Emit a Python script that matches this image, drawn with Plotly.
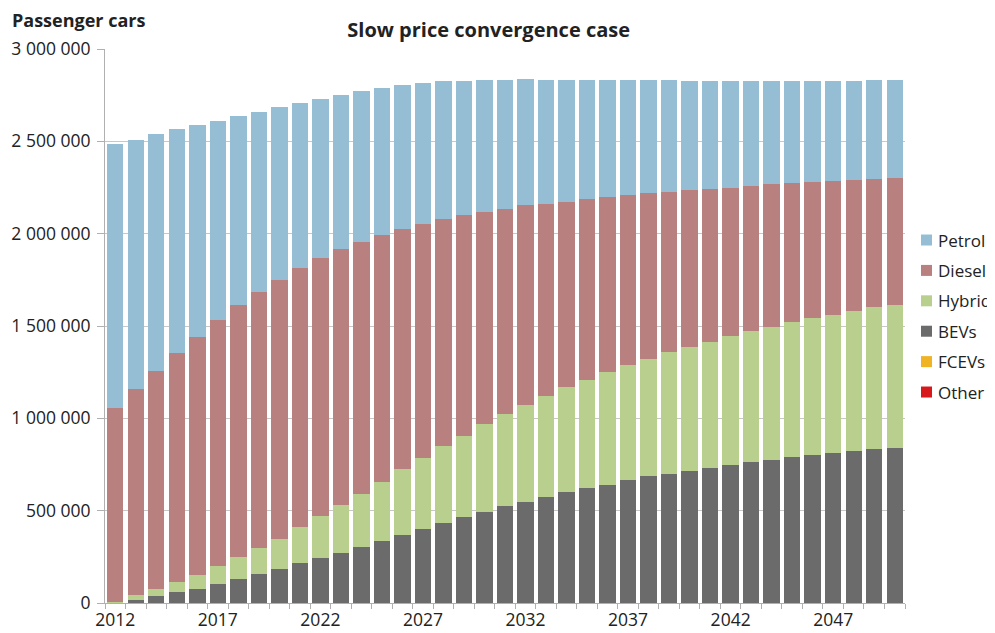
import plotly.graph_objects as go

years = list(range(2012, 2051))

bevs = [3000, 14000, 38000, 60000, 78000, 105000, 128000, 157000, 186000, 217000,
        242000, 272000, 305000, 337000, 370000, 402000, 433000, 467000, 494000, 525000,
        549000, 572000, 599000, 621000, 641000, 664000, 686000, 700000, 716000, 733000,
        749000, 764000, 776000, 791000, 803000, 812000, 825000, 832000, 839000]

hybrid = [5000, 29000, 36000, 52000, 75000, 95000, 121000, 139000, 162000, 196000,
          229000, 257000, 287000, 318000, 354000, 381000, 416000, 439000, 477000, 497000,
          523000, 549000, 571000, 587000, 608000, 626000, 635000, 659000, 672000, 682000,
          699000, 707000, 720000, 732000, 739000, 749000, 756000, 769000, 775000]

diesel = [1046000, 1116000, 1182000, 1240000, 1289000, 1331000, 1363000, 1390000, 1403000, 1399000,
          1397000, 1386000, 1365000, 1339000, 1301000, 1271000, 1230000, 1193000, 1144000, 1111000,
          1081000, 1039000, 1003000, 978000, 949000, 917000, 897000, 868000, 847000, 827000,
          801000, 787000, 771000, 750000, 738000, 724000, 709000, 693000, 689000]

petrol = [1430000, 1348000, 1282000, 1213000, 1145000, 1081000, 1025000, 973000, 933000, 894000,
          859000, 836000, 815000, 793000, 778000, 764000, 746000, 729000, 717000, 699000,
          684000, 673000, 660000, 647000, 633000, 624000, 612000, 603000, 594000, 586000,
          579000, 570000, 561000, 555000, 548000, 543000, 539000, 536000, 527000]

fcevs = [0] * len(years)
other = [0] * len(years)

# bottom of the stack first
series = [
    ("Other", other, "#d7191c"),
    ("FCEVs", fcevs, "#f0b323"),
    ("BEVs", bevs, "#6b6b6b"),
    ("Hybrid", hybrid, "#b8cf8d"),
    ("Diesel", diesel, "#b98080"),
    ("Petrol", petrol, "#95bed5"),
]

fig = go.Figure()
for name, vals, color in series:
    fig.add_trace(go.Bar(x=years, y=vals, name=name, marker_color=color,
                         marker_line_width=0, showlegend=False))

# legend drawn by hand: plotly's own legend keeps pushing the right margin
plot_h = 554
for i, (name, _, color) in enumerate(reversed(series)):
    yc = 0.6552 - i * 30.4 / plot_h
    fig.add_shape(type="rect", xref="paper", yref="paper",
                  xsizemode="pixel", ysizemode="pixel", xanchor=1.0, yanchor=yc,
                  x0=16, x1=27, y0=-5.5, y1=5.5,
                  fillcolor=color, line_width=0)
    fig.add_annotation(text=name, xref="paper", yref="paper", x=1.0, xshift=31,
                       y=yc, xanchor="left", yanchor="middle", showarrow=False,
                       font=dict(size=17, color="#222"))

# the page body has an 8px margin, so the figure is 8px smaller than the window
font = "Open Sans, Segoe UI, sans-serif"
fig.update_layout(
    barmode="stack",
    bargap=0.2,
    width=987,
    height=625,
    margin=dict(l=97, r=90, t=41, b=30),
    paper_bgcolor="white",
    plot_bgcolor="white",
    separators=". ",
    font=dict(family=font, size=17, color="#222"),
    title=dict(text="<b>Slow price convergence case</b>", x=0.487, xanchor="center",
               y=0.965, yanchor="middle", font=dict(size=20, color="#222")),
)
fig.add_annotation(text="<b>Passenger cars</b>", xref="paper", yref="paper",
                   x=-0.119, y=1.052, xanchor="left", yanchor="middle",
                   showarrow=False, font=dict(size=18, color="#222"))

fig.update_xaxes(range=[2011.5, 2050.5], tickvals=list(range(2012, 2051, 5)),
                 ticks="", showgrid=False, showline=True, linecolor="#b0b0b0",
                 linewidth=1, tickfont=dict(size=17.5), ticklabelstandoff=1,
                 automargin=False,
                 minor=dict(tick0=2011.5, dtick=1, ticks="outside", ticklen=5,
                            tickcolor="#b0b0b0", showgrid=False))
fig.update_yaxes(range=[0, 3000000], tickvals=[0, 500000, 1000000, 1500000, 2000000, 2500000, 3000000],
                 tickformat=",d", showgrid=True, gridcolor="#c8c8c8", gridwidth=1,
                 showline=True, linecolor="#b0b0b0", ticks="outside", ticklen=7,
                 tickcolor="#b0b0b0", tickfont=dict(size=17.5), zeroline=False,
                 ticklabelstandoff=3, automargin=False)

fig.write_html("out.html")
